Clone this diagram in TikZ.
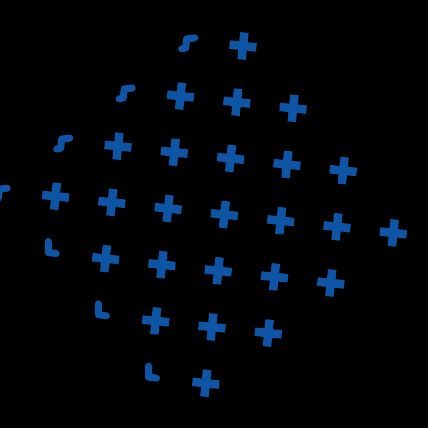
\documentclass[tikz,border=0pt]{standalone}
\definecolor{blu}{RGB}{15,85,165}
\begin{document}
\begin{tikzpicture}[x=0.02cm,y=-0.02cm,
    croce/.style={blu,line width=0.17cm},
    gancio/.style={blu,line width=0.14cm,line join=round,line cap=round}]
      %sfondo
      \fill[black] (0,0) rectangle (428,428);
      \clip (0,0) rectangle (428,428);
      %reticolo
      \foreach \j in {0,...,6} {
        \pgfmathtruncatemacro\n{3-abs(\j-3)}
        \pgfmathtruncatemacro\m{-\n}
        \pgfmathtruncatemacro\k{-\n-1}
        \foreach \i in {\m,...,\n}
          \draw[croce] ({243+56.3*\i-6.2*\j},{46+6.1*\i+56.2*\j}) +(-13.4,-1.4) -- +(13.4,1.4)
                       ({243+56.3*\i-6.2*\j},{46+6.1*\i+56.2*\j}) +(1.4,-13.4) -- +(-1.4,13.4);
        \coordinate (p\j) at ({243+56.3*\k-6.2*\j},{46+6.1*\k+56.2*\j});
        \ifnum\j<4
          \draw[gancio] (p\j) +(-5,9) -- +(-1,8) -- +(0,-1) -- +(8,-2);
        \else
          \draw[gancio] (p\j) +(-1,-11) -- +(-1,0) -- +(7,1);
        \fi
      }
    \end{tikzpicture}
\end{document}
